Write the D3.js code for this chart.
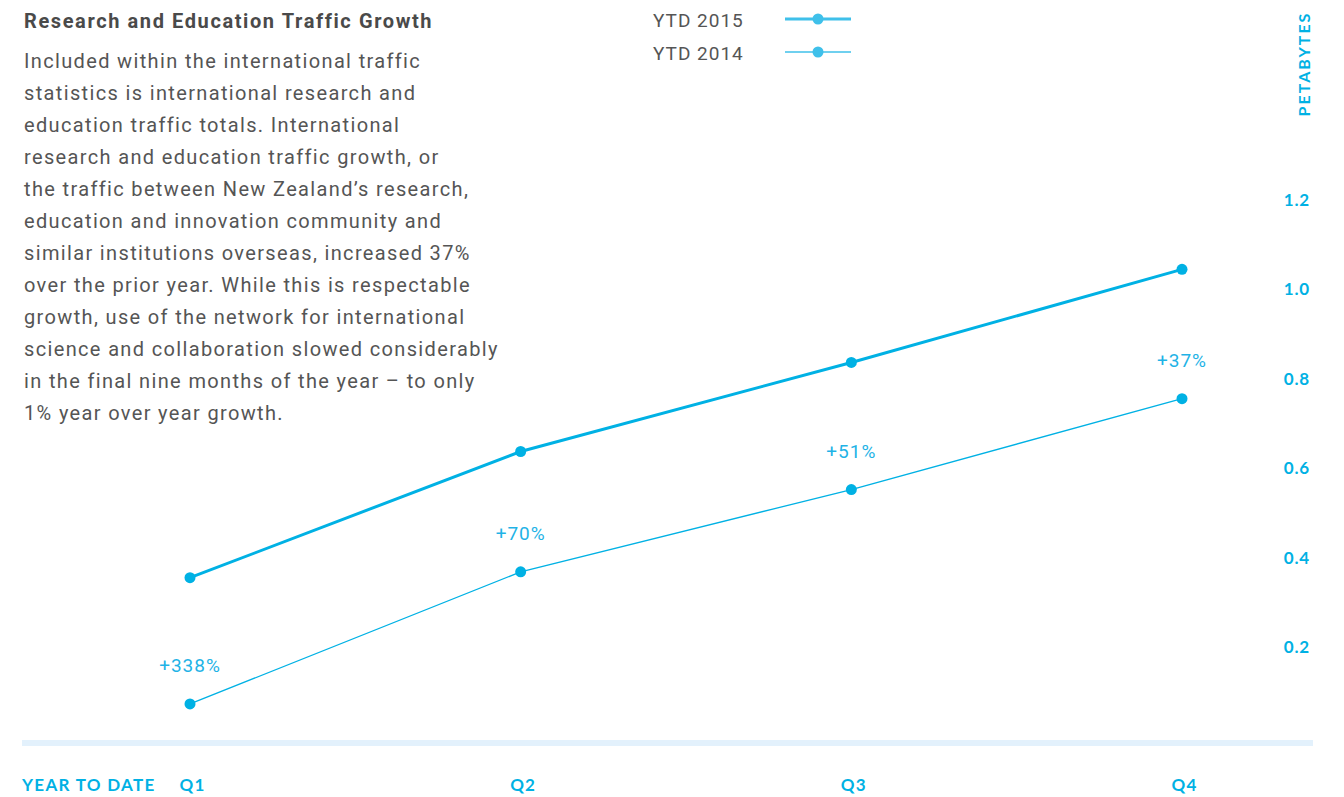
<!DOCTYPE html>
<html><head><meta charset="utf-8">
<script src="https://cdn.jsdelivr.net/npm/d3@7"></script>
<style>
html,body{margin:0;padding:0;background:#fff;}
svg{display:block;}
</style></head>
<body>
<svg id="chart" width="1344" height="797"></svg>
<script>
const quarters = ["Q1","Q2","Q3","Q4"];
const ytd2015 = [0.356, 0.638, 0.837, 1.045];
const ytd2014 = [0.074, 0.369, 0.553, 0.756];
const growthLabels = ["+338%","+70%","+51%","+37%"];
const yTicks = [0.2, 0.4, 0.6, 0.8, 1.0, 1.2];
const seriesNames = ["YTD 2015","YTD 2014"];
const bodyLines = [
  "Included within the international traffic",
  "statistics is international research and",
  "education traffic totals. International",
  "research and education traffic growth, or",
  "the traffic between New Zealand’s research,",
  "education and innovation community and",
  "similar institutions overseas, increased 37%",
  "over the prior year. While this is respectable",
  "growth, use of the network for international",
  "science and collaboration slowed considerably",
  "in the final nine months of the year – to only",
  "1% year over year growth."
];

const svg = d3.select("#chart");
const blue = "#00b1e4";
const x = d3.scalePoint().domain(quarters).range([190, 1182]);
const y = d3.scaleLinear().domain([0, 1.2]).range([737, 200]);

// Title and body
svg.append("text").attr("x", 24).attr("y", 28)
  .attr("font-family", "Roboto, sans-serif").attr("font-weight", 700)
  .attr("font-size", 20).attr("letter-spacing", 1.6).attr("fill", "#4a4a4a")
  .text("Research and Education Traffic Growth");
svg.append("g").selectAll("text").data(bodyLines).join("text")
  .attr("x", 24).attr("y", (d, i) => 68 + i * 32)
  .attr("font-family", "Roboto, sans-serif").attr("font-size", 20)
  .attr("letter-spacing", 1.35)
  .attr("fill", "#555").text(d => d);

// baseline band
svg.append("rect").attr("x", 22).attr("y", 740).attr("width", 1291).attr("height", 6).attr("fill", "#e3f1fc");

// y axis tick labels
const yAxis = d3.axisRight(y).tickValues(yTicks).tickFormat(d3.format(".1f")).tickSize(0).tickPadding(0);
const ya = svg.append("g").attr("transform", "translate(1310,0)").call(yAxis);
ya.select(".domain").remove();
ya.selectAll("text").attr("text-anchor", "end").attr("fill", blue)
  .attr("font-family", "Lato, sans-serif").attr("font-weight", 700).attr("font-size", 17)
  .attr("letter-spacing", 0.8);

// PETABYTES
svg.append("text").attr("transform", "translate(1310,64) rotate(-90)")
  .attr("text-anchor", "middle").attr("fill", blue)
  .attr("font-family", "Lato, sans-serif").attr("font-weight", 700).attr("font-size", 16)
  .attr("letter-spacing", 2).text("PETABYTES");

// x axis labels
const xAxis = d3.axisBottom(x).tickSize(0).tickPadding(0);
const xa = svg.append("g").attr("transform", "translate(2,791)").call(xAxis);
xa.select(".domain").remove();
xa.selectAll("text").attr("dy", 0).attr("fill", blue)
  .attr("font-family", "Lato, sans-serif").attr("font-weight", 700).attr("font-size", 17)
  .attr("letter-spacing", 1.2);
svg.append("text").attr("x", 22).attr("y", 791).attr("fill", blue)
  .attr("font-family", "Lato, sans-serif").attr("font-weight", 700).attr("font-size", 17)
  .attr("letter-spacing", 1.3).text("YEAR TO DATE");

// lines
const line = d3.line().x((d, i) => x(quarters[i])).y(d => y(d));
const series = [
  {name: seriesNames[0], values: ytd2015, w: 3},
  {name: seriesNames[1], values: ytd2014, w: 1.3}
];
series.forEach(s => {
  svg.append("path").datum(s.values).attr("d", line)
    .attr("fill", "none").attr("stroke", blue).attr("stroke-width", s.w);
  svg.append("g").selectAll("circle").data(s.values).join("circle")
    .attr("cx", (d, i) => x(quarters[i])).attr("cy", d => y(d)).attr("r", 5.5).attr("fill", blue);
});

// growth labels
svg.append("g").selectAll("text").data(growthLabels).join("text")
  .attr("x", (d, i) => x(quarters[i])).attr("y", (d, i) => y(ytd2014[i]) - 32)
  .attr("text-anchor", "middle").attr("fill", "#1fb3e6")
  .attr("font-family", "Roboto, sans-serif").attr("font-weight", 400).attr("font-size", 19)
  .attr("letter-spacing", 1)
  .text(d => d);

// legend
const lg = svg.append("g");
series.forEach((s, i) => {
  const ly = 19 + i * 33;
  lg.append("text").attr("x", 653).attr("y", ly + 8).attr("fill", "#555")
    .attr("font-family", "Roboto, sans-serif").attr("font-size", 19)
    .attr("letter-spacing", 1).text(s.name);
  lg.append("line").attr("x1", 785).attr("x2", 851).attr("y1", ly).attr("y2", ly)
    .attr("stroke", "#3fc0ea").attr("stroke-width", s.w);
  lg.append("circle").attr("cx", 818).attr("cy", ly).attr("r", 5.5).attr("fill", "#3fc0ea");
});
</script>
</body></html>
